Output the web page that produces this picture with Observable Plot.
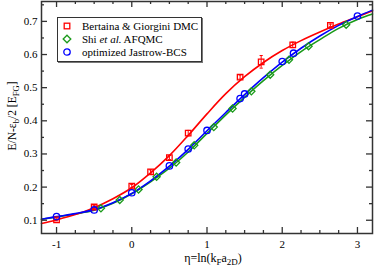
<!DOCTYPE html>
<html><head><meta charset="utf-8">
<script src="https://cdn.jsdelivr.net/npm/d3@7"></script>
<script src="https://cdn.jsdelivr.net/npm/@observablehq/plot@0.6"></script>
<style>
body{margin:0;background:#fff;}
#wrap{position:relative;width:374px;height:268px;font-family:"Liberation Serif","Times New Roman",serif;color:#000;overflow:hidden;}
#wrap svg.plot{position:absolute;left:0;top:0;}
.lab{position:absolute;white-space:nowrap;line-height:1;}
.lab sub{font-size:0.75em;vertical-align:-0.3em;line-height:0;}
#legend{position:absolute;left:57px;top:17px;width:143px;height:43px;border:1px solid #333;box-shadow:1px 1px 0 #777;background:#fff;}
.row{position:absolute;left:0;height:13px;font-size:11px;line-height:13px;white-space:nowrap;}
.row svg{position:absolute;left:4px;top:1px;}
.row span.t{position:absolute;left:24px;top:0;}
</style>
</head><body>
<div id="wrap"></div>
<script>
// Bertaina & Giorgini DMC
const dmcX = [-1, -0.5, 0, 0.25, 0.5, 0.75, 1.44, 1.72, 2.14, 2.64];
const dmcY = [0.101, 0.140, 0.203, 0.246, 0.289, 0.363, 0.532, 0.578, 0.629, 0.688];
const dmcErr = [0.003, 0.004, 0.005, 0.006, 0.006, 0.008, 0.006, 0.019, 0.008, 0.004];
// Shi et al. AFQMC
const afqmcX = [-0.41, -0.16, 0.09, 0.33, 0.59, 0.83, 1.09, 1.34, 1.59, 1.84, 2.09, 2.35, 2.85];
const afqmcY = [0.136, 0.161, 0.193, 0.231, 0.274, 0.326, 0.381, 0.437, 0.489, 0.539, 0.584, 0.625, 0.690];
// optimized Jastrow-BCS
const jbcsX = [-1, -0.5, 0, 0.5, 0.75, 1.0, 1.44, 1.5, 2.0, 2.15, 3.0];
const jbcsY = [0.111, 0.131, 0.183, 0.264, 0.315, 0.371, 0.467, 0.481, 0.579, 0.604, 0.716];
// fitted curves
const fitX = [-1.2, -1, -0.75, -0.5, -0.25, 0, 0.25, 0.5, 0.75, 1, 1.25, 1.5, 1.75, 2, 2.25, 2.5, 2.75, 3, 3.2];
const dmcFit = [0.090, 0.101, 0.117, 0.138, 0.165, 0.198, 0.243, 0.295, 0.356, 0.421, 0.482, 0.533, 0.576, 0.612, 0.642, 0.668, 0.692, 0.714, 0.732];
const jbcsFit = [0.103, 0.111, 0.120, 0.132, 0.153, 0.181, 0.219, 0.263, 0.314, 0.370, 0.425, 0.479, 0.530, 0.577, 0.619, 0.656, 0.688, 0.715, 0.734];
const afqmcFit = [0.103, 0.110, 0.119, 0.130, 0.151, 0.180, 0.216, 0.257, 0.306, 0.362, 0.418, 0.471, 0.521, 0.567, 0.609, 0.645, 0.679, 0.706, 0.722];
// ticks
const xMajor = [-1, 0, 1, 2, 3];
const xTickLabels = ["-1", "0", "1", "2", "3"];
const xMinor = [-0.75, -0.5, -0.25, 0.25, 0.5, 0.75, 1.25, 1.5, 1.75, 2.25, 2.5, 2.75];
const yMajor = [0.1, 0.2, 0.3, 0.4, 0.5, 0.6, 0.7];
const yTickLabels = ["0.1", "0.2", "0.3", "0.4", "0.5", "0.6", "0.7"];
const yMinor = [0.15, 0.25, 0.35, 0.45, 0.55, 0.65, 0.75];

const RED = "#ff0000", GREEN = "#1a9a1a", BLUE = "#0000ff", AX = "#333";
const W = 374, H = 268, mL = 41, mR = 2, mT = 1, mB = 35;
const pw = W - mL - mR, ph = H - mT - mB;
const maj = 6, mnr = 3;

const dmc = dmcX.map((x, i) => ({x, y: dmcY[i], e: dmcErr[i]}));
const afqmc = afqmcX.map((x, i) => ({x, y: afqmcY[i]}));
const jbcs = jbcsX.map((x, i) => ({x, y: jbcsY[i]}));
const fits = fitX.map((x, i) => ({x, d: dmcFit[i], j: jbcsFit[i], a: afqmcFit[i]}));
const cap = {draw(ctx, size) { const r = Math.sqrt(size / Math.PI); ctx.moveTo(-r, 0); ctx.lineTo(r, 0); }};

const chart = Plot.plot({
  width: W, height: H,
  marginLeft: mL, marginRight: mR, marginTop: mT, marginBottom: mB,
  style: {fontFamily: '"Liberation Serif","Times New Roman",serif', fontSize: "11px", color: "#000", background: "#fff"},
  x: {domain: [-1.2, 3.2]},
  y: {domain: [0.06, 0.76]},
  marks: [
    // curves
    Plot.line(fits, {x: "x", y: "a", stroke: GREEN, strokeWidth: 1.6, curve: "catmull-rom"}),
    Plot.line(fits, {x: "x", y: "d", stroke: RED, strokeWidth: 1.6, curve: "catmull-rom"}),
    Plot.line(fits, {x: "x", y: "j", stroke: BLUE, strokeWidth: 1.6, curve: "catmull-rom"}),
    // error bars
    Plot.ruleX(dmc, {x: "x", y1: d => d.y - d.e, y2: d => d.y + d.e, stroke: RED, strokeWidth: 1}),
    Plot.dot(dmc, {x: "x", y: d => d.y - d.e, symbol: cap, r: 1.6, stroke: RED, strokeWidth: 1}),
    Plot.dot(dmc, {x: "x", y: d => d.y + d.e, symbol: cap, r: 1.6, stroke: RED, strokeWidth: 1}),
    // markers
    Plot.dot(afqmc, {x: "x", y: "y", symbol: "diamond2", r: 3.2, stroke: GREEN, strokeWidth: 1.3, fill: "none"}),
    Plot.dot(dmc, {x: "x", y: "y", symbol: "square", r: 3.1, stroke: RED, strokeWidth: 1.3, fill: "none"}),
    Plot.dot(jbcs, {x: "x", y: "y", symbol: "circle", r: 3.2, stroke: BLUE, strokeWidth: 1.3, fill: "none"}),
    // inward ticks, all four sides
    Plot.tickX(xMajor, {x: d => d, insetTop: ph - maj, stroke: AX, strokeWidth: 1.3}),
    Plot.tickX(xMajor, {x: d => d, insetBottom: ph - maj, stroke: AX, strokeWidth: 1.3}),
    Plot.tickX(xMinor, {x: d => d, insetTop: ph - mnr, stroke: AX, strokeWidth: 1.3}),
    Plot.tickX(xMinor, {x: d => d, insetBottom: ph - mnr, stroke: AX, strokeWidth: 1.3}),
    Plot.tickY(yMajor, {y: d => d, insetRight: pw - maj, stroke: AX, strokeWidth: 1.3}),
    Plot.tickY(yMajor, {y: d => d, insetLeft: pw - maj, stroke: AX, strokeWidth: 1.3}),
    Plot.tickY(yMinor, {y: d => d, insetRight: pw - mnr, stroke: AX, strokeWidth: 1.3}),
    Plot.tickY(yMinor, {y: d => d, insetLeft: pw - mnr, stroke: AX, strokeWidth: 1.3}),
    // tick labels
    Plot.axisX({ticks: xMajor, tickFormat: (d, i) => xTickLabels[i], tickSize: 0, tickPadding: 7, label: null, fontSize: 11}),
    Plot.axisY({ticks: yMajor, tickFormat: (d, i) => yTickLabels[i], tickSize: 0, tickPadding: 4, label: null, fontSize: 11}),
    Plot.frame({stroke: AX, strokeWidth: 1.5})
  ]
});
chart.classList.add("plot");
const wrap = document.getElementById("wrap");
wrap.appendChild(chart);

function sym(kind, color) {
  let shape = "";
  if (kind === "square") shape = `<rect x="2.2" y="2.2" width="5.6" height="5.6" fill="none" stroke="${color}" stroke-width="1.3"/>`;
  if (kind === "diamond") shape = `<path d="M5,1.2L8.8,5L5,8.8L1.2,5Z" fill="none" stroke="${color}" stroke-width="1.3"/>`;
  if (kind === "circle") shape = `<circle cx="5" cy="5" r="3.2" fill="none" stroke="${color}" stroke-width="1.3"/>`;
  return `<svg width="10" height="10" viewBox="0 0 10 10">${shape}</svg>`;
}

const legend = document.createElement("div");
legend.id = "legend";
legend.innerHTML =
  `<div class="row" style="top:2px">${sym("square", RED)}<span class="t">Bertaina &amp; Giorgini DMC</span></div>` +
  `<div class="row" style="top:15px">${sym("diamond", GREEN)}<span class="t">Shi <i>et al.</i> AFQMC</span></div>` +
  `<div class="row" style="top:28px">${sym("circle", BLUE)}<span class="t">optimized Jastrow-BCS</span></div>`;
wrap.appendChild(legend);

const xl = document.createElement("div");
xl.className = "lab";
xl.style.cssText = "left:213px;top:252px;transform:translateX(-50%);font-size:12px;";
xl.innerHTML = "η=ln(k<sub>F</sub>a<sub>2D</sub>)";
wrap.appendChild(xl);

const yl = document.createElement("div");
yl.className = "lab";
yl.style.cssText = "left:13px;top:116px;transform:translate(-50%,-50%) rotate(-90deg);font-size:11.5px;";
yl.innerHTML = "E/N-ε<sub>b</sub>/2 [E<sub>FG</sub>]";
wrap.appendChild(yl);
</script>
</body></html>
